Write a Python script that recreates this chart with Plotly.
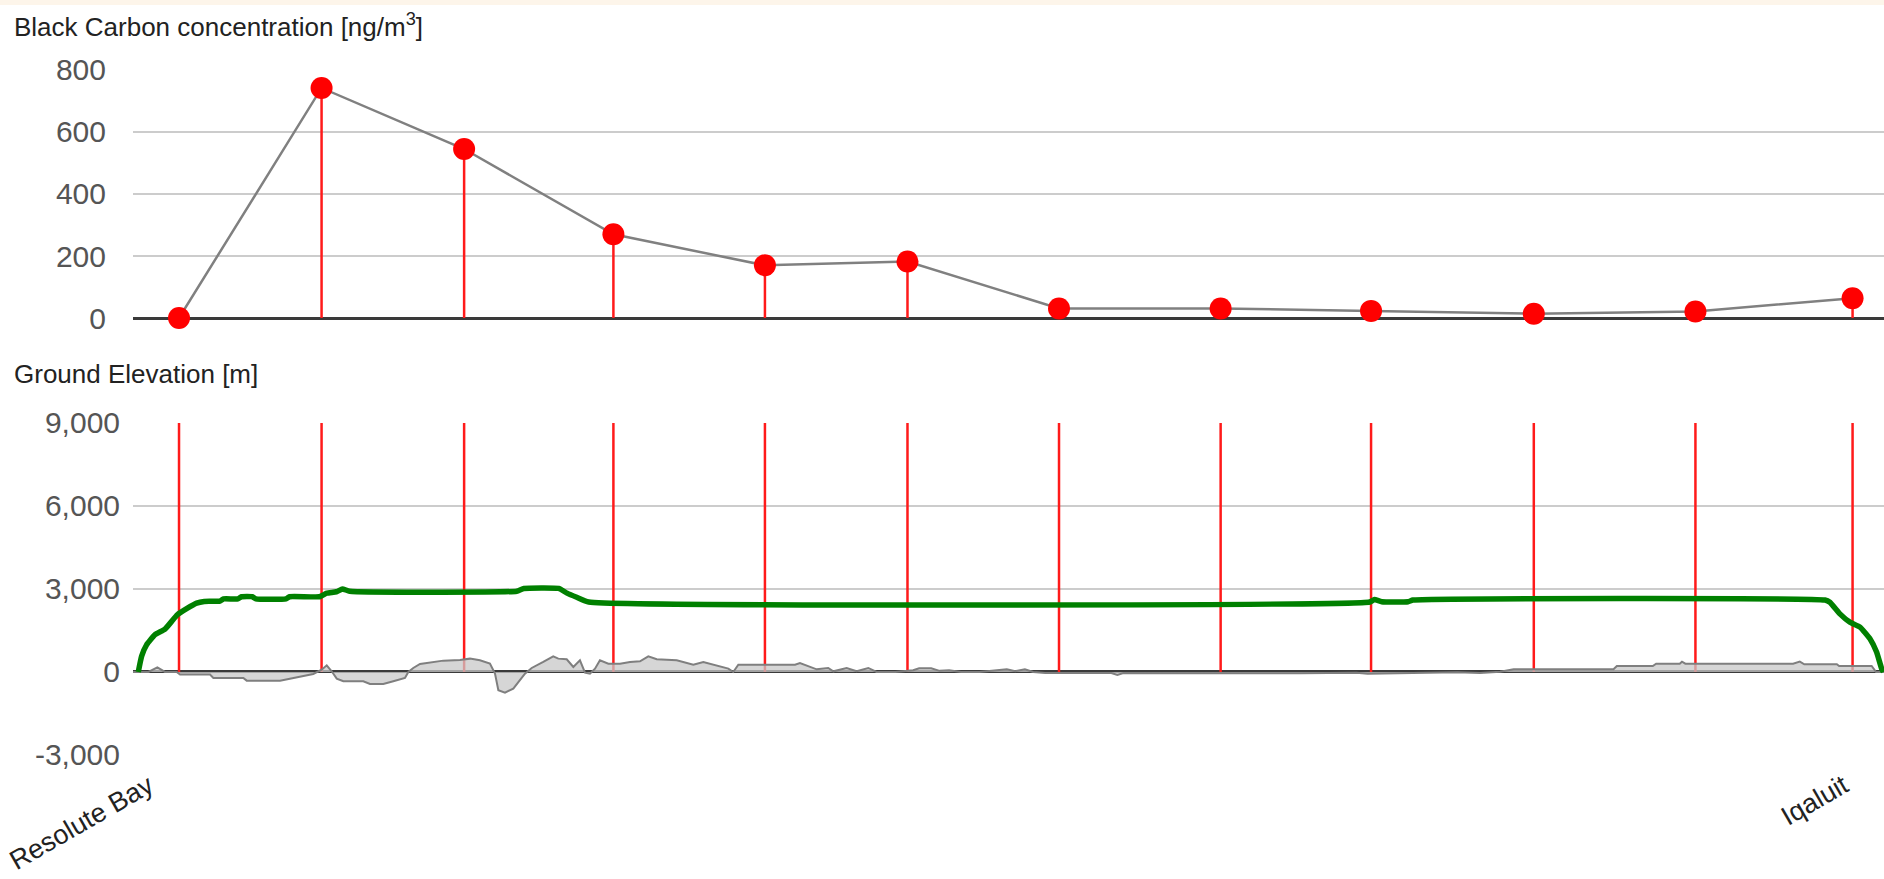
import plotly.graph_objects as go

# ---------------- data ----------------
route_length_km = 1560
sample_km = [41, 168, 295, 428, 563, 690, 825, 969, 1103, 1248, 1392, 1532]
black_carbon = [0, 742, 545, 270, 170, 182, 31, 31, 23, 14, 21, 64]

flight_km = [4.7, 7.7, 12.2, 19.6, 28.5, 34.5, 39.5, 47.8, 56.7, 63.5, 77.4, 80.6, 93.4,
             96.7, 106.3, 109.5, 136.3, 139.5, 166.2, 172.7, 181.2, 186.6, 193, 341.8,
             348.2, 379.2, 386.7, 395.3, 406, 1101.8, 1106, 1112.5, 1136, 1140.3, 1507.4,
             1511.8, 1520.7, 1529.6, 1538.6, 1547.5, 1553.4, 1557.9, 1559.5]
flight_alt_m = [0, 570, 990, 1350, 1550, 1830, 2070, 2290, 2490, 2550, 2560, 2640, 2640,
                2720, 2720, 2640, 2640, 2720, 2720, 2850, 2900, 3000, 2920, 2920,
                3020, 3020, 2850, 2700, 2530, 2530, 2620, 2540, 2540, 2600, 2600,
                2520, 2100, 1800, 1620, 1200, 720, 120, 0]

ground_km = [0, 13.7, 21.7, 28.5, 38.9, 41.9, 68.6, 71.6, 98.3, 101.3, 131, 139.9, 148.8,
             160.6, 168.1, 172.6, 177, 181.5, 187.4, 205.2, 211.1, 223, 231.9, 242.3,
             245.3, 249.7, 255.7, 267.5, 276.4, 291.3, 300.2, 309.1, 318, 322.5, 325.5,
             331.4, 338.8, 349.2, 355.2, 365.5, 374.4, 378.9, 386.4, 392.3, 398.2, 402.7,
             407.1, 411.6, 416, 423.5, 433.9, 442.8, 451.7, 459.1, 466.6, 484.4, 493.3,
             499.2, 508.1, 517, 530.4, 534.8, 539.3, 589.8, 594.2, 609.1, 619.4, 623.9,
             635.8, 644.7, 655.1, 662.5, 679, 695, 700.4, 711.1, 718.6, 727.1, 737.8,
             753.9, 778.5, 786, 794.6, 802, 812.7, 871.6, 877, 882.3, 952, 990, 1040,
             1090, 1100, 1168, 1180, 1200, 1218, 1230, 1319, 1322, 1354, 1357, 1378,
             1380, 1383, 1479, 1485, 1489, 1518, 1520, 1549, 1553, 1560]
ground_elev_m = [0, 0, 170, 0, 0, -96, -96, -217, -217, -313, -313, -240, -193,
                 -72, 84, 241, 24, -240, -337, -337, -434, -434, -337, -217,
                 0, 145, 289, 349, 410, 434, 482, 422, 301, -60, -663,
                 -747, -602, -60, 145, 361, 566, 482, 458, 181, 422, -24,
                 -60, 120, 422, 301, 301, 361, 386, 566, 458, 422, 325,
                 265, 361, 265, 120, 0, 265, 265, 325, 96, 145, 24,
                 145, 24, 145, 0, 0, 60, 130, 130, 40, 60, 0,
                 0, 100, 30, 100, 0, -40, -40, -110, -40, -30, -50, -50,
                 -30, -60, -40, -10, -40, 10, 96, 96, 217, 217, 300, 300,
                 373, 300, 300, 373, 277, 277, 217, 217, 0, 0]

bc_ticks = [0, 200, 400, 600, 800]
elev_ticks = [-3000, 0, 3000, 6000, 9000]
elev_tick_labels = ["-3,000", "0", "3,000", "6,000", "9,000"]
place_km = [14, 1524]
place_names = ["Resolute Bay", "Iqaluit"]

# ---------------- styling ----------------
W, H = 1884, 879
FONT = "Arial, Liberation Sans, sans-serif"
RED = "#ff1a1a"
GRID = "#cccccc"
ZERO = "#3a3a3a"

# stems built from the data arrays
stem_x, stem_y = [], []
for k, v in zip(sample_km, black_carbon):
    stem_x += [k, k, None]
    stem_y += [0, v, None]

elev_top = max(elev_ticks)
vline_x, vline_y = [], []
for k in sample_km:
    vline_x += [k, k, None]
    vline_y += [0, elev_top, None]

fig = go.Figure()

# --- top panel ---
fig.add_trace(go.Scatter(x=stem_x, y=stem_y, mode="lines",
                         line=dict(color=RED, width=2.5), xaxis="x", yaxis="y",
                         hoverinfo="skip", showlegend=False))
fig.add_trace(go.Scatter(x=sample_km, y=black_carbon, mode="lines",
                         line=dict(color="#808080", width=2.5), xaxis="x", yaxis="y",
                         showlegend=False, cliponaxis=False))
fig.add_trace(go.Scatter(x=sample_km, y=black_carbon, mode="markers",
                         marker=dict(color="#ff0000", size=22, line=dict(width=0)),
                         xaxis="x", yaxis="y", showlegend=False, cliponaxis=False))

# --- bottom panel ---
fig.add_trace(go.Scatter(x=vline_x, y=vline_y, mode="lines",
                         line=dict(color=RED, width=2.5), xaxis="x2", yaxis="y2",
                         hoverinfo="skip", showlegend=False))
fig.add_trace(go.Scatter(x=ground_km, y=ground_elev_m, mode="lines", fill="tozeroy",
                         fillcolor="rgba(200,200,200,0.75)",
                         line=dict(color="#7f7f7f", width=2), xaxis="x2", yaxis="y2",
                         showlegend=False))
fig.add_trace(go.Scatter(x=flight_km, y=flight_alt_m, mode="lines",
                         line=dict(color="#008000", width=5.5, shape="spline", smoothing=0.4),
                         xaxis="x2", yaxis="y2", showlegend=False, cliponaxis=False))

axis_common = dict(showline=False, ticks="", zeroline=False, showgrid=False,
                   range=[0, route_length_km], fixedrange=True, automargin=False)

fig.update_layout(
    width=W, height=H, autosize=False,
    margin=dict(l=133, r=0, t=0, b=0, pad=0),
    paper_bgcolor="white", plot_bgcolor="white",
    font=dict(family=FONT),
    xaxis=dict(domain=[0, 1], showticklabels=False, anchor="y", **axis_common),
    xaxis2=dict(domain=[0, 1], anchor="y2", tickvals=place_km, ticktext=place_names,
                tickangle=-30, ticklabelstandoff=9,
                tickfont=dict(size=27, color="#222222", family=FONT), **axis_common),
    yaxis=dict(domain=[0.6382, 0.9204], range=[0, 800], tickvals=bc_ticks,
               showgrid=True, gridcolor=GRID, gridwidth=2,
               zeroline=True, zerolinecolor=ZERO, zerolinewidth=3,
               ticks="", ticklabelstandoff=26, anchor="x", automargin=False,
               fixedrange=True,
               tickfont=dict(size=30, color="#555555", family=FONT)),
    yaxis2=dict(domain=[0.1411, 0.5188], range=[-3000, 9000], tickvals=elev_ticks,
                ticktext=elev_tick_labels,
                showgrid=True, gridcolor=GRID, gridwidth=2,
                zeroline=True, zerolinecolor=ZERO, zerolinewidth=3,
                ticks="", ticklabelstandoff=12, anchor="x2", automargin=False,
                fixedrange=True,
                tickfont=dict(size=30, color="#555555", family=FONT)),
    annotations=[
        dict(text="Black Carbon concentration [ng/m<sup>3</sup>]", xref="paper", yref="paper",
             x=(12 - 133) / (W - 133), y=1 - 25 / H, xanchor="left", yanchor="middle",
             showarrow=False, font=dict(size=26, color="#222222", family=FONT)),
        dict(text="Ground Elevation [m]", xref="paper", yref="paper",
             x=(12 - 133) / (W - 133), y=1 - 374 / H, xanchor="left", yanchor="middle",
             showarrow=False, font=dict(size=26, color="#222222", family=FONT)),
    ],
    shapes=[dict(type="rect", xref="paper", yref="paper",
                 x0=-133 / (W - 133), x1=1, y0=1 - 5 / H, y1=1,
                 fillcolor="#fdf5ea", line=dict(width=0), layer="below")],
)

fig.write_html("out.html",
               config={"displayModeBar": False},
               post_script="document.body.style.margin='0';"
                           "document.documentElement.style.overflow='hidden';"
                           "document.body.style.overflow='hidden';")
